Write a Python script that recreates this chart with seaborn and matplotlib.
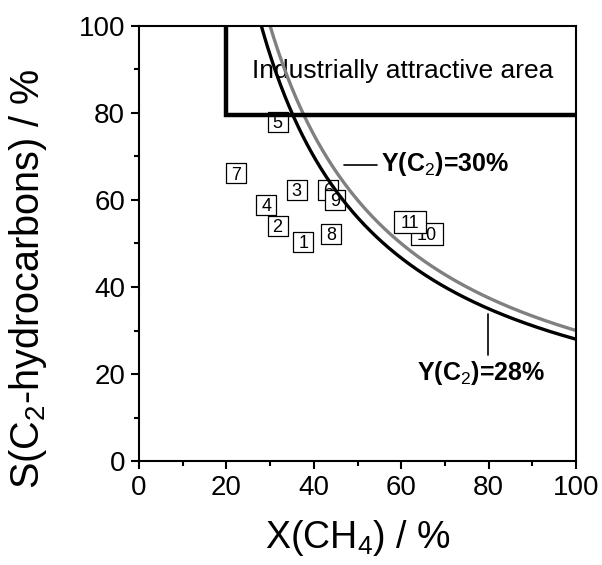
import numpy as np
import matplotlib
matplotlib.use("Agg")
import matplotlib.pyplot as plt
from matplotlib.path import Path
import seaborn as sns

# sample numbers and their position (conversion / selectivity, %)
sample_ids = ["1", "2", "3", "4", "5", "6", "7", "8", "9", "10", "11"]
conversion = [37.6, 31.7, 36.1, 29.1, 31.7, 43.3, 22.1, 43.9, 44.9, 65.8, 61.9]
selectivity = [50.4, 54.1, 62.3, 58.9, 78.0, 62.3, 66.1, 52.2, 60.0, 52.2, 55.0]

# iso-yield lines Y(C2) = X * S / 100
yield_levels = [30, 28]
yield_colors = ["#808080", "#000000"]

# industrially attractive region (X > 20 %, S > 80 %)
region_x = [20, 20, 100]
region_y = [100, 79.6, 79.6]

sns.set_theme(style="ticks")
plt.rcParams.update({
    "font.family": ["Liberation Sans", "DejaVu Sans"],
    "mathtext.fontset": "custom",
    "mathtext.rm": "Liberation Sans",
    "mathtext.it": "Liberation Sans",
    "mathtext.bf": "Liberation Sans:bold",
    "axes.linewidth": 1.5,
    "axes.edgecolor": "black",
    "text.color": "black",
    "axes.labelcolor": "black",
    "xtick.color": "black",
    "ytick.color": "black",
})

fig = plt.figure(figsize=(6.02, 5.65), dpi=100)
ax = fig.add_axes([139 / 602, 1 - 461 / 565, 437 / 602, 435 / 565])

x_grid = np.linspace(20, 100, 400)
for lvl, col in zip(yield_levels, yield_colors):
    sns.lineplot(x=x_grid, y=lvl * 100 / x_grid, color=col, linewidth=2.4, ax=ax, zorder=40)

ax.plot(region_x, region_y, color="black", linewidth=3.2, solid_joinstyle="miter", zorder=41)
ax.text(60.3, 89.7, "Industrially attractive area", fontsize=19, ha="center", va="center")

# boxed sample numbers, each box drawn before its number so later boxes cover earlier ones
wide_box = Path([(-1.5, -1), (1.5, -1), (1.5, 1), (-1.5, 1), (-1.5, -1)], closed=True)
for i, (sid, xv, yv) in enumerate(zip(sample_ids, conversion, selectivity)):
    if len(sid) > 1:
        mk, sz = wide_box, 560
    else:
        mk, sz = "s", 225
    sns.scatterplot(x=[xv], y=[yv], marker=mk, s=sz, color="white", edgecolor="black",
                    linewidth=0.9, ax=ax, zorder=2 * i + 2, legend=False)
    ax.text(xv, yv, sid, fontsize=13, ha="center", va="center_baseline", zorder=2 * i + 3)

# yield labels
ax.plot([46.9, 54.4], [68.0, 68.0], color="black", lw=1.2)
ax.text(55.3, 68.2, "Y(C$_2$)=30%", fontsize=18, fontweight="bold", ha="left", va="center")
ax.plot([79.9, 79.9], [33.8, 24.4], color="black", lw=1.2)
ax.text(78.2, 20.3, "Y(C$_2$)=28%", fontsize=18, fontweight="bold", ha="center", va="center")

ax.set_xlim(0, 100)
ax.set_ylim(0, 100)
ax.set_xticks([0, 20, 40, 60, 80, 100])
ax.set_yticks([0, 20, 40, 60, 80, 100])
ax.set_xticks(np.arange(10, 100, 20), minor=True)
ax.set_yticks(np.arange(10, 100, 20), minor=True)
ax.tick_params(which="major", direction="out", length=6, width=1.5, labelsize=20, pad=4,
               bottom=True, left=True, top=False, right=False)
ax.tick_params(which="minor", direction="out", length=3.5, width=1.5,
               bottom=True, left=True, top=False, right=False)
for s in ax.spines.values():
    s.set_visible(True)
    s.set_linewidth(1.5)
    s.set_zorder(50)

ax.set_xlabel("X(CH$_4$) / %", fontsize=27, labelpad=12)
ax.set_ylabel("S(C$_2$-hydrocarbons) / %", fontsize=28.5)
ax.yaxis.set_label_coords(-0.205, 0.42)

fig.savefig("out.png", dpi=100)
